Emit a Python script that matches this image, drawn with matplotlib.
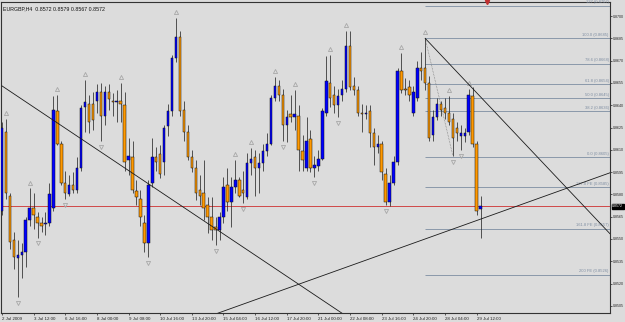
import numpy as np
import matplotlib
matplotlib.use("Agg")
import matplotlib.pyplot as plt

# EURGBP H4 candles
opens = [.8569, .8622, .8579, .8549, .8537, .8539, .8541, .8563, .8571, .8565,
         .8561, .8560, .8561, .8571, .8636, .8614, .8588, .8580, .8586, .8583,
         .8598, .8639, .8641, .8641, .8643, .8649, .8633, .8649, .8643, .8642,
         .8643, .8640, .8603, .8605, .8582, .8577, .8561, .8547, .8588, .8605,
         .8607, .8602, .8626, .8636, .8672, .8686, .8637, .8622, .8605, .8598,
         .8583, .8581, .8573, .8565, .8558, .8556, .8565, .8586, .8575, .8585,
         .8590, .8583, .8578, .8601, .8605, .8598, .8601, .8609, .8614, .8645,
         .8653, .8647, .8627, .8634, .8632, .8633, .8609, .8598, .8617, .8598,
         .8599, .8604, .8635, .8655, .8647, .8640, .8647, .8651, .8680, .8653,
         .8650, .8635, .8634, .8636, .8621, .8612, .8614, .8594, .8575, .8588,
         .8602, .8663, .8651, .8652, .8635, .8645, .8665, .8665, .8655, .8620,
         .8632, .8641, .8638, .8635, .8631, .8625, .8619, .8619, .8622, .8646,
         .8614, .8570]
highs = [.8629, .8631, .8581, .8555, .8549, .8547, .8565, .8584, .8581, .8568,
         .8565, .8568, .8588, .8646, .8647, .8616, .8596, .8593, .8595, .8605,
         .8640, .8657, .8647, .8649, .8654, .8655, .8653, .8654, .8648, .8650,
         .8655, .8649, .8618, .8616, .8590, .8583, .8566, .8590, .8618, .8612,
         .8613, .8627, .8641, .8674, .8699, .8690, .8643, .8627, .8610, .8603,
         .8593, .8603, .8578, .8578, .8565, .8568, .8592, .8598, .8592, .8603,
         .8592, .8596, .8608, .8611, .8610, .8608, .8614, .8621, .8647, .8659,
         .8657, .8651, .8637, .8647, .8650, .8640, .8620, .8632, .8623, .8606,
         .8610, .8638, .8673, .8674, .8653, .8651, .8657, .8690, .8690, .8659,
         .8653, .8641, .8640, .8640, .8625, .8620, .8616, .8598, .8593, .8606,
         .8665, .8675, .8658, .8657, .8653, .8670, .8676, .8685, .8660, .8637,
         .8645, .8643, .8645, .8646, .8635, .8629, .8627, .8625, .8651, .8652,
         .8616, .8579]
lows = [.8566, .8577, .8543, .8530, .8511, .8524, .8531, .8559, .8557, .8551,
        .8555, .8553, .8559, .8569, .8613, .8586, .8577, .8579, .8581, .8581,
        .8596, .8622, .8621, .8623, .8635, .8616, .8627, .8637, .8633, .8629,
        .8629, .8596, .8593, .8581, .8573, .8559, .8541, .8538, .8585, .8596,
        .8591, .8593, .8619, .8633, .8669, .8633, .8616, .8603, .8595, .8576,
        .8573, .8563, .8554, .8549, .8546, .8549, .8561, .8569, .8558, .8581,
        .8578, .8574, .8577, .8593, .8579, .8581, .8596, .8606, .8613, .8643,
        .8643, .8616, .8615, .8629, .8623, .8596, .8596, .8596, .8595, .8592,
        .8596, .8603, .8633, .8639, .8635, .8632, .8643, .8649, .8650, .8647,
        .8633, .8622, .8631, .8612, .8600, .8608, .8590, .8573, .8572, .8586,
        .8600, .8648, .8647, .8643, .8633, .8643, .8657, .8650, .8616, .8616,
        .8630, .8633, .8631, .8627, .8606, .8616, .8610, .8615, .8620, .8612,
        .8566, .8551]
closes = [.8625, .8581, .8548, .8538, .8539, .8541, .8563, .8571, .8566, .8561,
          .8559, .8561, .8580, .8637, .8614, .8588, .8581, .8586, .8583, .8598,
          .8638, .8642, .8629, .8630, .8649, .8633, .8649, .8644, .8642, .8643,
          .8641, .8602, .8606, .8583, .8578, .8565, .8547, .8586, .8605, .8602,
          .8594, .8625, .8636, .8672, .8686, .8636, .8622, .8605, .8598, .8581,
          .8579, .8571, .8565, .8556, .8556, .8565, .8585, .8575, .8585, .8590,
          .8579, .8581, .8601, .8604, .8598, .8601, .8609, .8614, .8645, .8653,
          .8647, .8627, .8632, .8632, .8634, .8610, .8603, .8616, .8598, .8600,
          .8604, .8636, .8656, .8645, .8640, .8646, .8651, .8680, .8652, .8650,
          .8635, .8634, .8635, .8621, .8612, .8614, .8595, .8575, .8588, .8602,
          .8663, .8650, .8650, .8647, .8649, .8665, .8663, .8655, .8618, .8632,
          .8641, .8637, .8635, .8629, .8618, .8621, .8621, .8621, .8647, .8614,
          .8569, .8572]

date_labels = ["2 Jul 2009", "3 Jul 12:00", "6 Jul 16:00", "8 Jul 00:00", "9 Jul 08:00",
               "10 Jul 16:00", "13 Jul 20:00", "15 Jul 04:00", "16 Jul 12:00",
               "17 Jul 20:00", "21 Jul 00:00", "22 Jul 08:00", "23 Jul 16:00",
               "24 Jul 20:00", "28 Jul 04:00", "29 Jul 12:00"]
date_bars = list(range(0, 121, 8))

price_ticks = [.8700, .8685, .8670, .8655, .8640, .8625, .8610, .8595, .8580,
               .8565, .8550, .8535, .8520, .8505]

fractal_up = [1, 7, 14, 21, 30, 44, 59, 63, 69, 74, 83, 87, 101, 107, 113, 118]
fractal_dn = [4, 9, 16, 25, 37, 54, 61, 71, 79, 85, 97, 114, 116]

fib_labels = ["127 (0.8707)", "100.0 (0.8685)", "78.6 (0.8668)", "61.8 (0.8654)",
              "50.0 (0.8645)", "38.2 (0.8636)", "0.0 (0.8605)",
              "127.0 FE (0.8585)", "161.8 FE (0.8557)", "200 FE (0.8526)"]
fib_prices = [.8707, .8685, .8668, .8654, .8645, .8636, .8605, .8585, .8557, .8526]
fib_start = 107

# trendlines: two anchor points (bar, price)
trend1 = [(0, .8653), (86, .8500)]
trend2 = [(107, .8685), (150, .8564)]
trend3 = [(54.5, .8500), (150, .8591)]
fe_path = [(107, .8685), (114, .8606)]

last_price = .8572
title = "EURGBP,H4  0.8572 0.8579 0.8567 0.8572"

bg = "#dcdcdc"
fig = plt.figure(figsize=(6.25, 3.22), dpi=100, facecolor=bg)
ax = fig.add_axes([0.8 / 625, 1 - 313 / 322, 609.5 / 625, 311.5 / 322], facecolor=bg)
xmin, xmax = -0.3, 153.8
ymin, ymax = 0.85002, 0.87098

n = len(opens)
x = np.arange(n)
o = np.array(opens); h = np.array(highs); l = np.array(lows); c = np.array(closes)
up = c >= o

ax.vlines(x, l, h, color="#2a2a2a", lw=0.55, zorder=3)
bottom = np.minimum(o, c)
height = np.maximum(np.abs(c - o), 0.00004)
ax.bar(x[up], height[up], bottom=bottom[up], width=0.62, color="#0000ff",
       edgecolor="#111111", lw=0.35, zorder=4)
ax.bar(x[~up], height[~up], bottom=bottom[~up], width=0.62, color="#ff9900",
       edgecolor="#111111", lw=0.35, zorder=4)

# fractal arrows
ax.plot(fractal_up, h[fractal_up] + 0.0004, ls="none", marker="^", ms=3.0,
        mfc="none", mec="#a8a8a8", mew=0.6, zorder=2)
ax.plot(fractal_dn, l[fractal_dn] - 0.0004, ls="none", marker="v", ms=3.0,
        mfc="none", mec="#a8a8a8", mew=0.6, zorder=2)

# fibonacci levels
fib_col = "#8a98aa"
for lab, p in zip(fib_labels, fib_prices):
    ax.hlines(p, fib_start, xmax, color=fib_col, lw=0.7, zorder=1)
    ax.text(xmax - 0.4, p + 0.00008, lab, fontsize=3.0, color="#7f8ea2",
            ha="right", va="bottom", family="Liberation Sans")
ax.plot(*zip(*fe_path), color="#777777", lw=0.5, ls=(0, (1, 1.2)), zorder=2)

# trendlines, extended to the right edge
def ray(pts, x_end):
    (x0, y0), (x1, y1) = pts
    k = (y1 - y0) / (x1 - x0)
    return [x0, x_end], [y0, y0 + k * (x_end - x0)]

for t, xe in [(trend1, 86), (trend2, xmax), (trend3, xmax)]:
    xs, ys = ray(t, xe)
    ax.plot(xs, ys, color="#1a1a1a", lw=0.6, zorder=5)

ax.axhline(last_price, color="#d04848", lw=0.7, zorder=1)

ax.set_xlim(xmin, xmax)
ax.set_ylim(ymin, ymax)

ax.yaxis.tick_right()
ax.set_yticks(price_ticks)
ax.set_yticklabels(["%.4f" % v for v in price_ticks])
ax.tick_params(axis="y", labelsize=2.6, length=1.2, width=0.5, pad=0.6,
               colors="#222222")
ax.set_xticks(date_bars)
ax.set_xticklabels(date_labels)
ax.tick_params(axis="x", labelsize=3.2, length=1.5, width=0.5, pad=1.2,
               colors="#222222")
for t in ax.get_xticklabels():
    t.set_ha("left")
    t.set_family("Liberation Sans")
for t in ax.get_yticklabels():
    t.set_family("Liberation Sans")

for s in ax.spines.values():
    s.set_color("#333333")
    s.set_linewidth(0.8)

# last price box
ax.text(xmax + 0.5, last_price, "%.4f" % last_price, fontsize=2.6, color="white",
        va="center", ha="left", family="Liberation Sans",
        bbox=dict(boxstyle="square,pad=0.15", fc="black", ec="black"), clip_on=False)

# chart shift marker
ax.plot([122.7], [ymax], marker="v", ms=3, color="#c03030", clip_on=False, zorder=6)

ax.text(0.004, 0.985, title, transform=ax.transAxes, fontsize=3.8, color="#111111",
        ha="left", va="top", family="Liberation Sans")

fig.savefig("out.png", dpi=100, facecolor=bg)
